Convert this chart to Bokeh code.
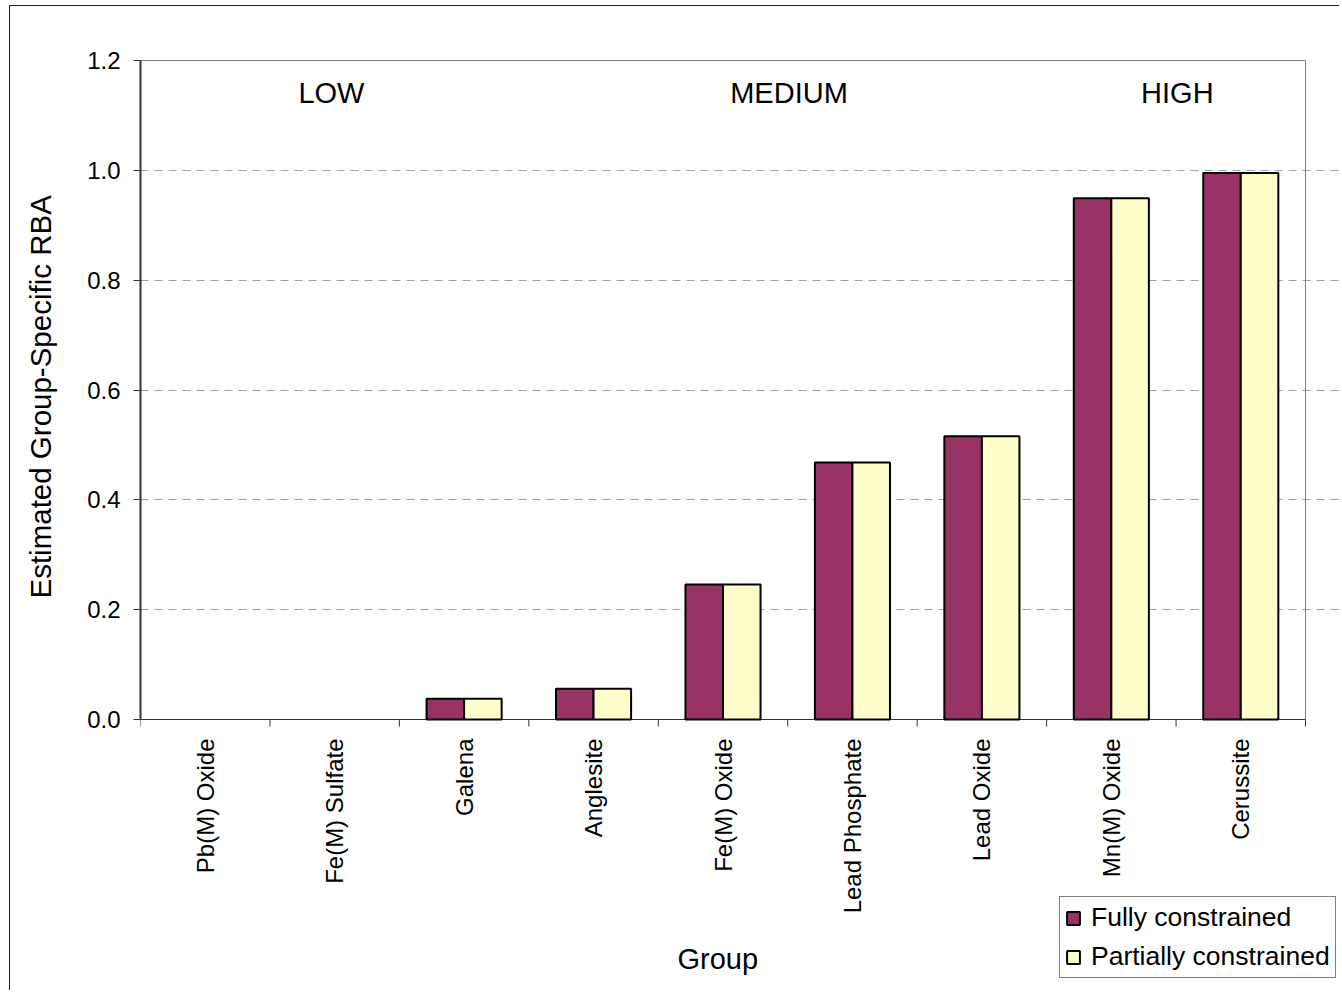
from bokeh.plotting import figure
from bokeh.models import (ColumnDataSource, FixedTicker, NumeralTickFormatter, Legend,
                          LegendItem, Range1d, Label, Title, CDSView, BooleanFilter)
from bokeh.core.properties import value
from bokeh.embed import file_html
from bokeh.resources import INLINE
import math

categories = ["Pb(M) Oxide", "Fe(M) Sulfate", "Galena", "Anglesite", "Fe(M) Oxide",
              "Lead Phosphate", "Lead Oxide", "Mn(M) Oxide", "Cerussite"]
fully = [0.0, 0.0, 0.038, 0.056, 0.246, 0.468, 0.516, 0.949, 0.995]
partially = [0.0, 0.0, 0.038, 0.056, 0.246, 0.468, 0.516, 0.949, 0.995]
y_ticks = [0.0, 0.2, 0.4, 0.6, 0.8, 1.0, 1.2]
grid_ticks = [0.2, 0.4, 0.6, 0.8, 1.0]
groups = ["LOW", "MEDIUM", "HIGH"]
group_x = [1.475, 5.01, 8.01]
group_y = 1.14
x_title = "Group"
y_title = "Estimated Group-Specific RBA"

FONT = "Liberation Sans"
n = len(categories)
y_max = 1.2
centers = [i + 0.5 for i in range(n)]
bounds = list(range(n + 1))
bw = 0.29

# layout (pixels)
W, H = 1330, 985
L, T = 130, 54
PW, PH = 1165, 659          # width / height of the value area
x_end = n * (W - L) / PW
y_start = -y_max * (H - T - PH) / PH

p = figure(width=W, height=H, output_backend="svg", toolbar_location=None,
           x_range=Range1d(0, x_end), y_range=Range1d(y_start, y_max),
           x_axis_location=None,
           min_border_left=L, min_border_right=0, min_border_top=T, min_border_bottom=0)
p.margin = (5, 0, 0, 9)
p.styles = {"border-left": "1px solid #222222", "border-top": "1px solid #222222"}
p.outline_line_color = None

src = ColumnDataSource(dict(xf=[c - bw / 2 for c in centers], xp=[c + bw / 2 for c in centers],
                            fully=fully, partially=partially))
view_f = CDSView(filter=BooleanFilter([v > 0 for v in fully]))
view_p = CDSView(filter=BooleanFilter([v > 0 for v in partially]))

# grid
p.xgrid.grid_line_color = None
p.ygrid.ticker = FixedTicker(ticks=grid_ticks)
p.ygrid.bounds = (0, n)
p.ygrid.grid_line_color = "#a0a0a0"
p.ygrid.grid_line_dash = "8 6"
p.ygrid.grid_line_width = 1

# frame lines of the value area
p.segment(x0=[0], y0=[y_max], x1=[n], y1=[y_max], line_color="black", line_width=1)
p.segment(x0=[n], y0=[0], x1=[n], y1=[y_max], line_color="#808080", line_width=1)
p.segment(x0=[0], y0=[0], x1=[n], y1=[0], line_color="#333333", line_width=1)

r1 = p.vbar(x="xf", top="fully", width=bw, source=src, view=view_f, fill_color="#993366",
            line_color="black", line_width=2)
r2 = p.vbar(x="xp", top="partially", width=bw, source=src, view=view_p, fill_color="#FFFFCC",
            line_color="black", line_width=2)

# category axis: ticks at boundaries, vertical labels
p.ray(x=bounds, y=[0] * len(bounds), length=7, length_units="screen", angle=-math.pi / 2,
      line_color="#333333", line_width=1)
p.text(x=centers, y=[0] * n, text=categories, angle=math.pi / 2, text_align="right",
       text_baseline="middle", y_offset=19, text_font=value(FONT), text_font_size="24px",
       text_color="black")
p.text(x=[n / 2 - 0.04], y=[0], text=[x_title], text_align="center", text_baseline="middle",
       y_offset=239, text_font=value(FONT), text_font_size="29px", text_color="black")

# value axis
p.yaxis.ticker = FixedTicker(ticks=y_ticks, minor_ticks=[])
p.yaxis.formatter = NumeralTickFormatter(format="0.0")
p.yaxis.bounds = (0, y_max)
p.yaxis.major_tick_out = 7
p.yaxis.major_tick_in = 0
p.yaxis.minor_tick_line_color = None
p.yaxis.major_label_standoff = 13
p.yaxis.major_label_text_font = FONT
p.yaxis.major_label_text_font_size = "24px"
p.yaxis.major_label_text_color = "black"
p.yaxis.axis_line_color = "#333333"
p.yaxis.axis_line_width = 2
p.yaxis.major_tick_line_color = "#333333"

# spacer between the value axis and its title
p.add_layout(Title(text=" ", text_font_size="1px", standoff=25), "left")
ytitle = Title(text=y_title, align="left", offset=393, standoff=0,
               text_font=FONT, text_font_size="29.5px", text_font_style="normal",
               text_color="black")
p.add_layout(ytitle, "left")

for g, gx in zip(groups, group_x):
    p.add_layout(Label(x=gx, y=group_y, text=g, text_font=FONT, text_font_size="29px",
                       text_align="center", text_baseline="middle", text_color="black"))

legend = Legend(items=[LegendItem(label="Fully constrained", renderers=[r1]),
                       LegendItem(label="Partially constrained", renderers=[r2])],
                location=(919, 13), orientation="vertical")
legend.label_text_font = FONT
legend.label_text_font_size = "26.5px"
legend.label_text_color = "black"
legend.glyph_width = 16
legend.glyph_height = 16
legend.label_standoff = 10
legend.spacing = 8
legend.padding = 5
legend.margin = 0
legend.border_line_color = "black"
legend.border_line_width = 1
legend.background_fill_alpha = 1
p.add_layout(legend, "center")

open("out.html", "w").write(file_html(p, INLINE))
